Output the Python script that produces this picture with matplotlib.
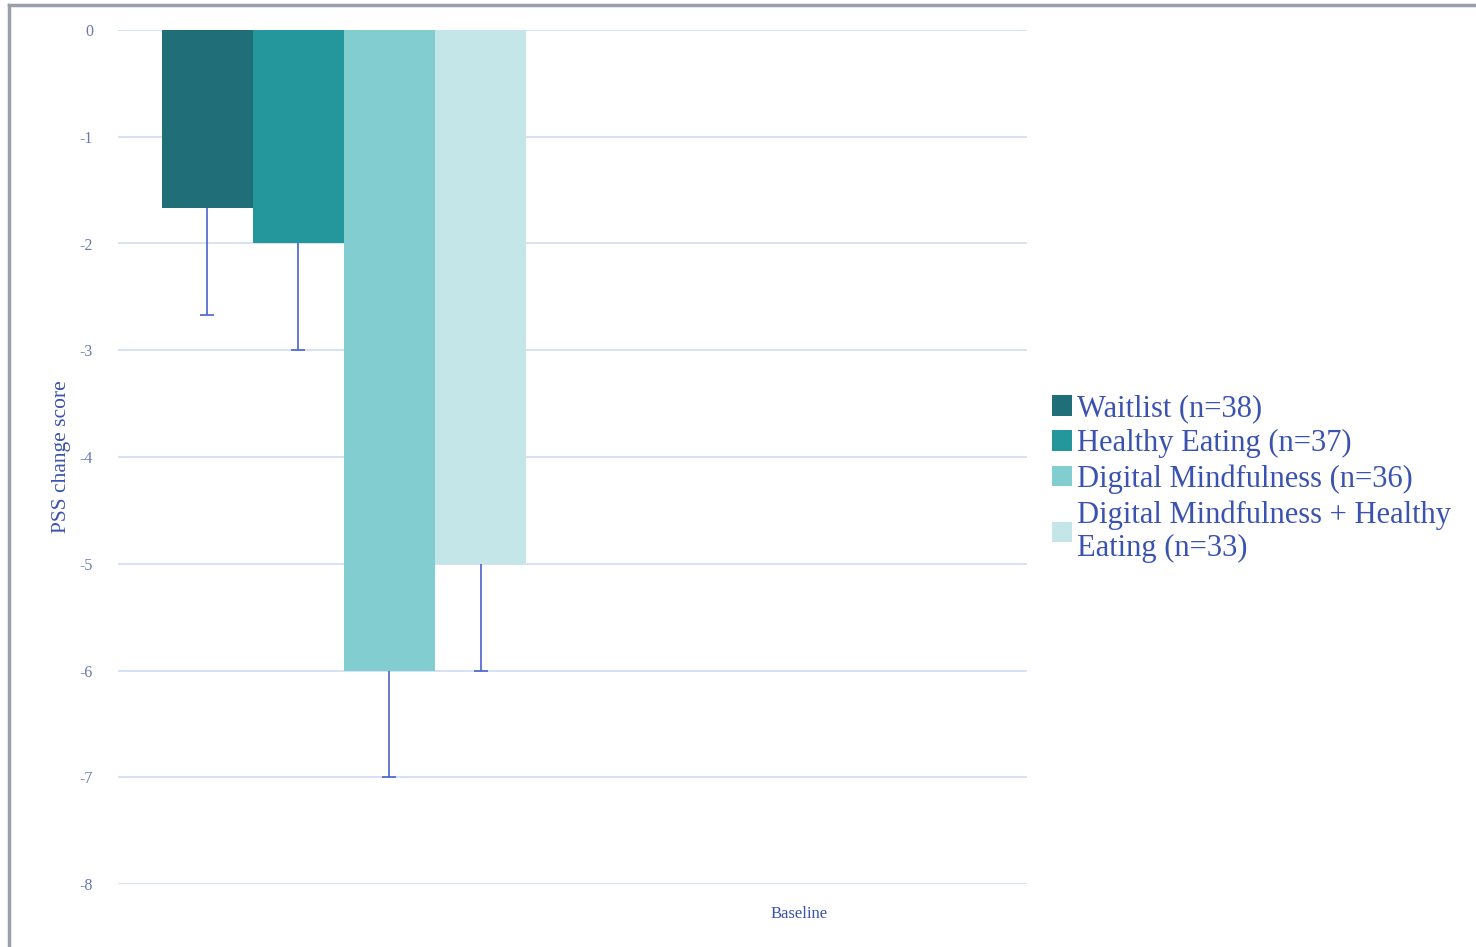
import matplotlib.pyplot as plt
from matplotlib.lines import Line2D

# PSS change score by group (mean, lower error)
groups = ["Waitlist (n=38)", "Healthy Eating (n=37)",
          "Digital Mindfulness (n=36)", "Digital Mindfulness + Healthy\nEating (n=33)"]
means = [-1.67, -2.0, -6.0, -5.0]
errors = [1.0, 1.0, 1.0, 1.0]
colors = ["#1f6e78", "#23979c", "#82cdd0", "#c5e6e9"]
yticks = [0, -1, -2, -3, -4, -5, -6, -7, -8]
category = "Baseline"

text_col = "#3a52b0"
grid_col = "#cfdcf2"
err_col = "#4a62d0"
font = ["Liberation Serif", "DejaVu Serif"]

fig = plt.figure(figsize=(14.76, 9.47), dpi=100)
ax = fig.add_axes([118 / 1476, 1 - 884 / 947, (1027 - 118) / 1476, (884 - 30) / 947])

for i, (m, e, c, g) in enumerate(zip(means, errors, colors, groups)):
    ax.bar(i, m, width=1.0, color=c, label=g, zorder=2)
    _, caps, _ = ax.errorbar(i, m, yerr=[[e], [0]], fmt="none", ecolor=err_col,
                             elinewidth=1.2, capsize=5, capthick=1.2, zorder=3)
    # keep only the cap at the far end of the whisker
    for cap in caps:
        if cap.get_ydata()[0] >= m:
            cap.set_visible(False)

ax.set_ylim(-8, 0)
ax.set_xlim(-0.98, 9.0)
ax.set_yticks(yticks)
ax.set_yticklabels([str(t) for t in yticks], fontsize=11.5, color="#6a78b0", family=font)
ax.set_xticks([6.5])
ax.set_xticklabels([category], fontsize=12, color=text_col, family=font)
ax.tick_params(axis="both", length=0, pad=18)
ax.tick_params(axis="x", pad=16)
ax.grid(axis="y", color=grid_col, linewidth=1.2, zorder=0)
for s in ax.spines.values():
    s.set_visible(False)

ax.set_ylabel("PSS change score", fontsize=15.5, color=text_col, family=font, labelpad=6)

leg = fig.legend(loc="upper left", bbox_to_anchor=(1040 / 1476, 1 - 382 / 947),
                 frameon=False, prop={"family": font, "size": 22},
                 labelcolor=text_col, handlelength=0.65, handleheight=0.65,
                 handletextpad=0.15, labelspacing=0.2, borderaxespad=0)

# thin frame around the chart area
fig.add_artist(Line2D([9 / 1476, 1], [1 - 5 / 947, 1 - 5 / 947], color="#9aa0aa", linewidth=2.5))
fig.add_artist(Line2D([9 / 1476, 9 / 1476], [0, 1 - 5 / 947], color="#9aa0aa", linewidth=2.5))

fig.savefig("out.png", dpi=100)
